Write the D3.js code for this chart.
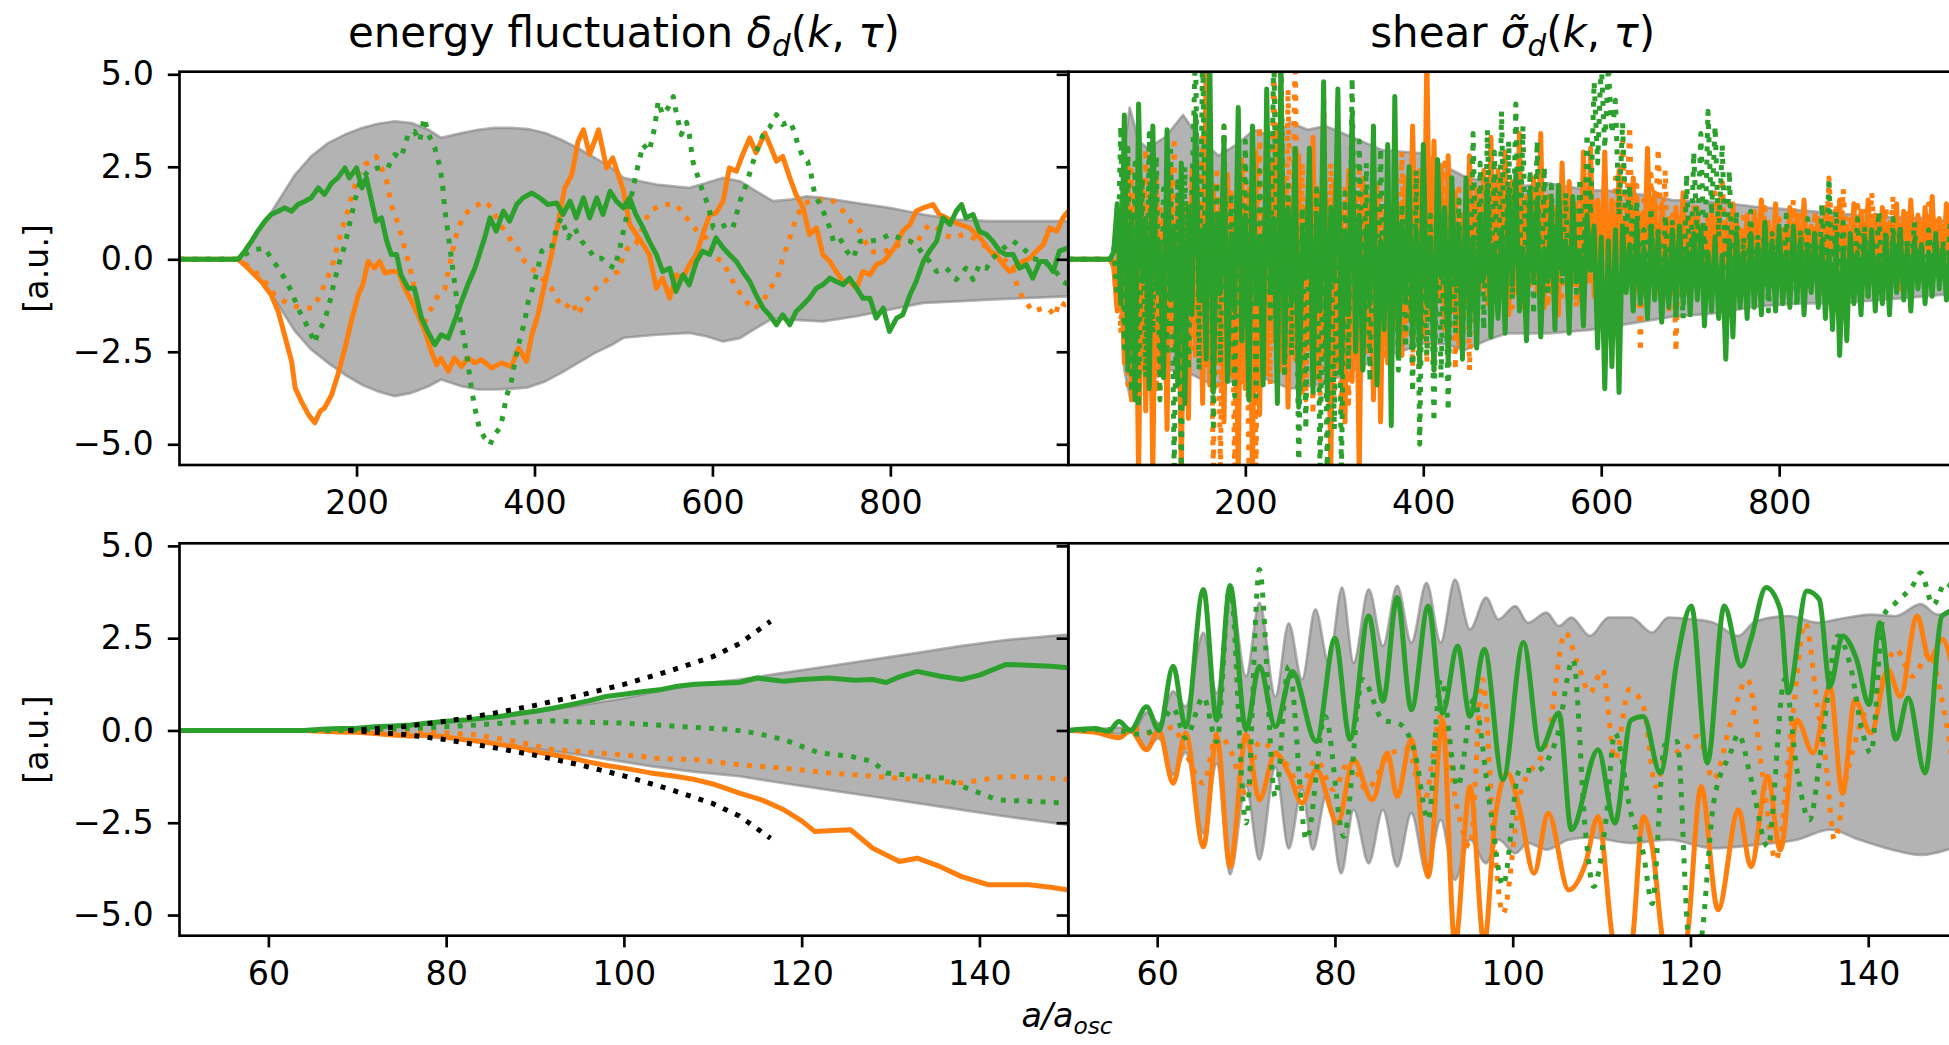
<!DOCTYPE html>
<meta charset="utf-8">
<style>
body { margin: 0; background: #fff; }
svg { display: block; font-family: "DejaVu Sans", sans-serif; background: #fff; }
.axis text { font-size: 33.3px; fill: #000; font-family: "DejaVu Sans", sans-serif; }
.axis line { stroke: #000; stroke-width: 2.67px; }
.axis path { display: none; }
.spine { fill: none; stroke: #000; stroke-width: 2.67px; }
.band { fill: #808080; fill-opacity: 0.6; stroke: #808080; stroke-opacity: 0.6; stroke-width: 2.7px; stroke-linejoin: round; }
.line { fill: none; stroke-width: 5px; stroke-linejoin: round; }
.dotted { stroke-dasharray: 5 8.25; stroke-linecap: butt; }
.lbl { font-size: 33.3px; }
</style>
<body>
<script src="https://d3js.org/d3.v7.min.js"></script>
<script>

var ORANGE = "#ff7f0e", GREEN = "#2ca02c";

// ---------- top left: energy fluctuation, a in [1, 1000] ----------
var tlBandUp = [[1,0],[60,0],[67,0.02],[80,0.4],[93,0.85],[112,1.57],[131,2.29],[149,2.78],[168,3.14],[187,3.37],[206,3.55],[224,3.66],[243,3.73],[262,3.68],[281,3.5],[295,3.28],[318,3.41],[337,3.5],[355,3.55],[374,3.55],[393,3.52],[412,3.41],[430,3.23],[449,3.0],[468,2.74],[487,2.47],[500,2.2],[537,2.02],[574,1.93],[593,2.06],[612,2.2],[631,2.11],[649,1.84],[668,1.57],[687,1.61],[706,1.7],[724,1.66],[762,1.52],[799,1.39],[837,1.21],[874,1.07],[912,1.03],[949,1.03],[1000,1.03]];
var tlBandLo = [[1,0],[60,0],[67,-0.02],[80,-0.25],[93,-0.6],[112,-1.23],[131,-1.95],[149,-2.44],[168,-2.8],[187,-3.12],[206,-3.39],[224,-3.57],[243,-3.7],[262,-3.61],[281,-3.43],[295,-3.25],[318,-3.43],[337,-3.52],[355,-3.52],[374,-3.5],[393,-3.46],[412,-3.3],[430,-3.07],[449,-2.8],[468,-2.53],[487,-2.31],[500,-2.12],[537,-2.04],[574,-1.99],[593,-2.08],[612,-2.22],[631,-2.13],[649,-1.86],[668,-1.59],[687,-1.63],[724,-1.68],[762,-1.54],[799,-1.36],[837,-1.18],[874,-1.14],[912,-1.09],[949,-1.05],[1000,-1.0]];
var tlOrangeSolid = [[1,0],[67,0],[74,-0.15],[93,-0.6],[104,-0.96],[112,-1.41],[119,-2.04],[127,-2.76],[131,-3.48],[138,-3.84],[146,-4.2],[153,-4.42],[159,-4.11],[164,-4.02],[172,-3.66],[179,-3.12],[187,-2.4],[194,-1.68],[202,-0.96],[207,-0.69],[213,-0.06],[220,-0.24],[226,-0.06],[232,-0.37],[239,-0.33],[247,-0.33],[254,-0.78],[262,-1.14],[269,-1.5],[277,-1.95],[284,-2.49],[290,-2.85],[295,-2.67],[303,-3.03],[310,-2.67],[318,-2.9],[325,-2.67],[333,-2.8],[340,-2.71],[352,-2.94],[363,-2.8],[374,-2.9],[382,-2.4],[391,-2.76],[397,-2.04],[404,-1.5],[412,-0.6],[419,0.12],[427,1.03],[434,1.93],[442,2.29],[449,3.19],[455,3.5],[462,2.83],[472,3.5],[481,2.47],[488,2.74],[500,1.85],[507,0.94],[522,0.4],[529,0.13],[537,-0.78],[544,-0.51],[552,-1.05],[559,-0.42],[567,-0.51],[574,-0.15],[582,0.13],[589,0.67],[597,1.21],[604,1.25],[612,1.57],[619,2.47],[627,2.38],[634,2.83],[642,3.28],[649,2.88],[659,3.41],[666,3.01],[672,2.65],[679,2.78],[687,2.2],[694,1.75],[702,1.39],[709,0.67],[717,0.85],[724,0.13],[732,-0.06],[739,-0.33],[747,-0.6],[754,-0.6],[762,-0.78],[769,-0.33],[777,-0.42],[784,-0.15],[792,-0.06],[799,0.13],[807,0.4],[814,0.76],[822,0.94],[829,1.3],[837,1.39],[848,1.48],[855,1.21],[863,1.12],[870,1.03],[878,0.94],[889,0.85],[897,0.67],[904,0.49],[912,0.22],[919,0.13],[927,-0.15],[934,-0.33],[942,-0.15],[949,-0.06],[957,0.03],[964,0.22],[972,0.4],[979,0.85],[987,0.76],[994,1.12],[1000,1.3]];
var tlOrangeDot = [[1,0],[67,0],[82,-0.24],[97,-0.6],[108,-0.96],[119,-1.14],[131,-1.27],[142,-1.32],[151,-1.32],[157,-1.05],[164,-0.69],[172,-0.24],[177,0.21],[183,0.76],[189,1.21],[194,1.66],[202,2.29],[209,2.56],[217,2.65],[222,2.78],[228,2.47],[234,2.11],[239,1.48],[247,0.94],[254,0.31],[262,-0.42],[269,-1.32],[277,-1.68],[284,-1.32],[292,-0.96],[299,-0.82],[307,0.12],[314,0.85],[322,1.21],[329,1.39],[337,1.48],[344,1.57],[352,1.39],[359,1.03],[367,0.76],[374,0.49],[382,0.26],[389,-0.06],[397,-0.24],[404,-0.42],[412,-0.6],[419,-0.78],[427,-1.14],[434,-1.32],[442,-1.14],[449,-1.5],[457,-1.14],[464,-0.96],[472,-0.69],[479,-0.6],[487,-0.42],[494,-0.33],[500,0.1],[507,0.4],[514,0.42],[529,1.3],[544,1.48],[559,1.48],[574,1.03],[586,0.67],[593,0.58],[604,0.03],[612,-0.06],[619,-0.42],[627,-0.78],[638,-1.14],[646,-1.36],[657,-1.14],[664,-0.78],[672,-0.6],[679,0.03],[687,0.58],[694,1.12],[702,1.48],[709,1.57],[724,1.61],[736,1.57],[747,1.3],[758,0.94],[766,0.76],[777,0.22],[788,0.17],[799,0.26],[810,0.4],[822,0.49],[829,0.4],[837,0.76],[844,0.94],[852,0.85],[859,0.67],[870,0.58],[882,0.67],[893,0.58],[904,0.4],[915,0.13],[927,0.03],[938,-0.24],[943,-0.78],[949,-1.05],[960,-1.41],[972,-1.32],[979,-1.36],[985,-1.54],[990,-1.14],[996,-1.23],[1000,-1.2]];
var tlGreenSolid = [[1,0],[67,0],[74,0.21],[82,0.49],[89,0.76],[97,1.03],[104,1.21],[112,1.3],[119,1.39],[127,1.3],[134,1.48],[142,1.57],[149,1.66],[157,1.93],[164,1.75],[172,2.06],[179,2.2],[187,2.47],[192,2.2],[200,2.47],[206,1.93],[211,2.2],[217,1.57],[222,1.03],[228,1.12],[234,0.49],[239,0.13],[245,0.13],[250,-0.42],[258,-0.78],[265,-0.78],[273,-1.59],[280,-1.95],[288,-2.31],[295,-2.04],[303,-2.13],[310,-1.68],[318,-1.14],[325,-0.69],[333,-0.24],[338,0.13],[344,0.58],[350,1.12],[357,0.76],[365,1.3],[372,1.03],[380,1.48],[387,1.66],[397,1.79],[406,1.66],[415,1.48],[425,1.52],[432,1.21],[440,1.57],[447,1.12],[455,1.66],[462,1.12],[470,1.66],[477,1.21],[485,1.84],[492,1.57],[500,1.39],[507,1.66],[514,1.21],[522,0.85],[529,0.49],[537,0.13],[544,-0.33],[552,-0.24],[559,-0.87],[567,-0.42],[574,-0.69],[582,-0.06],[589,0.22],[597,0.13],[604,0.58],[612,0.31],[619,0.13],[627,-0.06],[634,-0.33],[642,-0.6],[649,-0.96],[657,-1.32],[664,-1.5],[672,-1.77],[679,-1.5],[687,-1.77],[694,-1.41],[702,-1.23],[709,-1.05],[717,-0.78],[724,-0.69],[732,-0.51],[739,-0.6],[747,-0.69],[754,-0.51],[762,-0.78],[769,-1.05],[777,-1.05],[784,-1.59],[792,-1.32],[799,-1.95],[807,-1.59],[814,-1.5],[822,-0.96],[829,-0.6],[837,-0.06],[844,0.22],[852,0.49],[859,1.12],[867,0.94],[874,1.3],[880,1.48],[885,1.12],[893,1.21],[900,0.76],[908,0.67],[915,0.49],[923,0.22],[930,0.13],[938,0.13],[945,-0.24],[953,-0.15],[960,-0.51],[968,-0.06],[975,-0.06],[983,-0.33],[990,0.22],[1000,0.31]];
var tlGreenDot = [[1,0],[67,0],[74,0.12],[85,0.26],[97,0.3],[104,0.03],[112,-0.24],[119,-0.51],[127,-0.87],[134,-1.32],[142,-1.68],[149,-2.04],[153,-2.26],[157,-1.95],[164,-1.68],[170,-1.14],[175,-0.6],[181,-0.06],[187,0.4],[192,0.94],[198,1.57],[204,2.11],[213,2.38],[224,2.47],[235,2.47],[243,2.83],[250,2.74],[258,3.37],[265,3.46],[271,3.19],[276,3.82],[281,3.37],[288,3.01],[294,2.47],[297,1.93],[299,1.39],[303,0.67],[307,-0.06],[310,-0.6],[314,-1.32],[320,-2.04],[325,-2.76],[329,-3.48],[333,-4.02],[338,-4.56],[344,-4.83],[350,-5.01],[355,-4.74],[361,-4.56],[365,-4.2],[368,-3.75],[374,-3.3],[378,-2.76],[383,-2.22],[389,-1.68],[393,-1.14],[398,-0.78],[404,-0.24],[408,0.22],[413,0.3],[419,0.3],[425,0.85],[430,1.12],[438,0.58],[445,0.85],[453,0.49],[460,0.3],[468,0.03],[475,0.03],[483,-0.15],[490,-0.24],[496,0.3],[502,1.0],[508,1.6],[514,2.29],[522,3.1],[529,2.92],[535,3.55],[539,4.27],[544,3.91],[550,4.09],[556,4.4],[559,4.0],[565,3.37],[571,3.7],[574,3.37],[578,2.65],[584,2.2],[589,1.84],[595,1.48],[601,0.85],[608,0.85],[616,0.94],[623,0.85],[631,1.57],[638,2.02],[646,2.65],[651,3.01],[657,3.37],[664,3.55],[672,3.91],[679,3.64],[687,3.73],[692,3.46],[696,3.1],[702,2.74],[707,2.65],[711,2.29],[715,1.75],[721,1.48],[726,1.21],[732,0.85],[736,0.49],[743,0.58],[751,0.22],[758,0.03],[766,0.49],[777,0.49],[788,0.53],[799,0.67],[810,0.58],[822,0.49],[829,0.4],[837,0.13],[844,-0.06],[852,-0.33],[863,-0.24],[874,-0.55],[885,-0.24],[893,-0.55],[900,-0.15],[908,-0.24],[915,0.03],[927,0.3],[938,0.49],[949,0.3],[960,0.03],[972,-0.06],[983,-0.24],[994,-0.6],[1000,-0.69]];

// ---------- top right: shear, a in [1, 1000] ----------
var trBandUp = [[1,0],[50,0],[58,0.6],[64,3.0],[70,4.1],[80,3.2],[90,3.0],[110,3.3],[130,3.9],[150,3.2],[170,2.8],[190,3.1],[210,3.5],[230,3.3],[250,3.7],[270,3.5],[290,3.6],[310,3.4],[330,3.2],[354,2.95],[380,2.9],[401,2.86],[425,2.5],[447,2.23],[470,2.1],[494,1.96],[520,2.0],[541,2.05],[565,1.95],[587,1.87],[610,1.85],[634,1.78],[660,1.7],[680,1.6],[727,1.55],[773,1.42],[820,1.33],[866,1.24],[913,1.15],[959,1.12],[1000,1.0]];
var trBandLo = [[1,0],[50,0],[58,-0.6],[64,-3.0],[70,-3.7],[80,-3.0],[100,-3.0],[130,-3.0],[160,-3.35],[190,-3.3],[220,-3.2],[250,-3.5],[280,-3.4],[308,-3.17],[330,-2.9],[354,-2.63],[380,-2.45],[401,-2.27],[425,-2.3],[447,-2.45],[470,-2.2],[494,-2.0],[541,-2.0],[587,-1.91],[634,-1.73],[680,-1.55],[727,-1.46],[773,-1.28],[820,-1.19],[866,-1.19],[913,-1.1],[959,-1.01],[1000,-0.92]];
// sampled every 4 units from a = 48, 20 values (80 units) per row
var trStart = 48, trStep = 4;
var trGreenSolid = [
  0, 0.2, 1.5, -1.2, 3.9, -3.0, 1.2, -3.8, 4.2, -0.6, 1.1, -3.5, 3.6, -0.8, 0.4, -3.2, 3.5, -1.1, 0.9, -3.4,
  2.6, -3.9, 1.4, -1.5, 3.9, -1.1, 0.8, -2.7, 5.5, -3.6, 1.2, -0.9, 3.3, -3.3, 0.7, -1.4, 4.1, -2.2, 1.2, -3.8,
  3.6, -1.2, 0.6, -3.4, 4.6, -0.8, 1.1, -3.9, 5.3, -2.8, 1.4, -1.2, 2.9, -4.0, 0.7, -0.5, 3.0, -3.6, 1.2, -1.4,
  4.8, -3.8, 1.3, -0.6, 4.6, -3.1, 0.7, -1.5, 3.9, -2.4, 1.2, -3.0, 0.8, -1.2, 3.6, -3.4, 0.5, -1.9, 3.1, -4.5,
  4.4, -2.6, 1.0, -1.1, 2.5, -2.4, 0.8, -2.9, 3.1, -1.2, 0.6, -3.0, 2.7, -0.5, 1.4, -2.8, 2.2, -0.7, 0.9, -2.6,
  2.2, -1.9, 0.6, -2.4, 1.2, -0.5, 2.0, -2.1, 0.4, -1.6, 0.8, -2.0, 1.9, -0.7, 2.3, -1.4, 0.3, -2.2, 1.8, -0.5,
  1.6, -2.1, 0.3, -0.6, 1.5, -1.9, 2.0, -0.4, 0.5, -2.0, 1.7, -0.6, 0.2, -1.8, 1.2, -0.3, 0.9, -2.4, 0.6, -3.5,
  0.5, -2.9, 0.8, -3.6, 0.9, -0.9, 0.4, -1.4, 1.0, -1.2, 0.3, -1.6, 0.9, -1.1, 0.6, -1.7, 0.2, -1.3, 0.8, -1.5,
  0.9, -1.2, 0.3, -1.5, 0.7, -1.1, 0.8, -1.8, 0.2, -1.4, 0.6, -1.6, 0.1, -2.7, 0.5, -2.1, 0.7, -1.3, 0.2, -1.6,
  0.7, -1.3, 0.4, -1.5, 1.0, -1.0, 0.5, -1.4, 0.8, -1.2, 0.2, -1.3, 0.9, -1.1, 0.5, -1.5, 0.4, -0.9, 0.7, -1.3,
  0.5, -1.6, 0.2, -1.9, 0.6, -2.6, 0.3, -2.2, 0.7, -1.2, 0.2, -1.5, 0.6, -1.0, 0.8, -1.4, 0.1, -1.2, 0.6, -1.5,
  0.6, -0.9, 0.8, -1.1, 0.3, -1.4, 0.5, -0.8, 0.4, -1.2, 0.2, -1.0, 0.6, -0.7, 0.3, -1.1, 0.2, -0.6, 0.5, -0.3];
var trOrangeSolid = [
  0, -0.2, -1.4, 1.0, -2.8, 2.6, -3.8, 1.8, -5.8, 2.0, -4.1, 1.4, -5.8, 2.2, -3.0, 1.2, -4.6, 2.5, -2.4, 1.6,
  -5.8, 1.5, -4.3, 2.4, -2.6, 1.3, -3.9, 5.8, -3.4, 2.0, -2.8, 1.6, -4.4, 2.3, -3.1, 1.1, -5.8, 2.7, -3.5, 1.9,
  -5.8, 2.9, -4.2, 1.2, -3.1, 2.7, -2.2, 3.6, -3.0, 2.1, -4.0, 1.6, -2.7, 2.8, -3.6, 1.4, -2.4, 3.3, -3.2, 1.8,
  -2.6, 1.6, -5.8, 2.1, -2.9, 1.3, -4.4, 2.4, -3.3, 1.7, -5.8, 2.2, -2.5, 1.5, -3.8, 2.0, -4.4, 1.2, -2.8, 0.9,
  -1.8, 1.5, -2.6, 2.2, -1.6, 3.6, -1.2, 2.4, -2.1, 5.5, -1.6, 3.2, -1.0, 2.5, -1.9, 2.8, -1.4, 1.8, -2.3, 1.2,
  -0.8, 2.8, -1.4, 1.9, -0.8, 2.4, -1.2, 3.3, -0.6, 2.4, -1.0, 2.9, -1.5, 2.1, -0.9, 3.4, -1.3, 1.7, -0.7, 2.2,
  -0.9, 3.4, -1.3, 1.7, -0.9, 1.4, -1.5, 2.6, -0.4, 2.1, -0.6, 1.5, -1.1, 2.9, -0.6, 3.0, -1.0, 1.6, -0.5, 2.9,
  -1.0, 1.6, -0.7, 2.4, -0.5, 1.0, -0.3, 2.2, -0.8, 1.2, -0.6, 3.0, -0.2, 1.8, -0.9, 1.5, -0.4, 1.1, -0.8, 1.4,
  -0.2, 1.8, -0.9, 1.1, -0.4, 1.4, -0.5, 0.9, -0.8, 1.3, 0.1, 1.6, -0.6, 1.0, -0.3, 1.5, -0.7, 0.8, -0.2, 1.2,
  -0.4, 1.3, 0.1, 1.6, -0.6, 1.0, -0.3, 1.5, -0.7, 0.8, -0.2, 1.4, -0.5, 1.2, -0.1, 1.6, -0.6, 0.9, -0.3, 1.1,
  -0.9, 1.4, -0.4, 1.1, -0.1, 1.6, -0.6, 0.9, -0.3, 1.5, -0.8, 1.3, -0.2, 1.6, -0.5, 1.2, -0.3, 1.4, 0.2, 1.0,
  -0.5, 1.5, -0.8, 1.3, -0.2, 1.6, -0.5, 1.2, -0.3, 1.4, 0.0, 1.7, -0.4, 1.1, -0.2, 1.5, -0.6, 1.2, 0.0, 0.8];
var trGreenDot = [
  0, 0.3, -1.0, 3.6, -2.4, 3.0, -3.6, 2.6, -4.0, 2.2, -3.2, 3.4, -2.0, 2.8, -3.8, 1.9, -2.6, 3.1, -5.8, 2.2,
  -5.8, 2.5, -3.0, 1.8, 5.8, -3.0, 5.8, -2.2, 3.0, -4.5, 2.1, -2.8, 3.6, -2.4, 1.8, -3.7, 2.4, -2.2, 3.2, -3.0,
  1.8, -3.7, 2.4, -2.2, 3.5, -1.6, 5.8, -2.0, 5.8, -3.2, 2.0, -2.6, 3.1, -5.8, 1.4, -4.6, 2.3, -3.3, 1.9, -5.8,
  2.0, -5.8, 1.4, -4.6, 2.3, -5.8, 1.8, -3.0, 4.9, -2.5, 3.2, -1.8, 2.6, -3.3, 1.6, -2.4, 3.0, -1.6, 2.2, -3.1,
  2.0, -3.0, 1.5, -2.4, 1.1, -3.6, 2.4, -5.0, 2.0, -2.6, 1.2, -4.4, 1.8, -3.2, 1.3, -4.1, 2.2, -2.0, 1.6, -2.7,
  1.6, -2.2, 3.4, -1.3, 2.6, -1.9, 3.5, -0.8, 2.9, -1.4, 4.0, -1.6, 3.2, -1.1, 4.2, -0.6, 3.6, -1.2, 2.4, -1.5,
  3.2, -1.8, 2.5, -1.0, 2.0, -1.4, 1.1, -0.6, 1.8, -1.2, 1.4, -0.9, 2.2, -0.6, 3.4, 1.2, 4.8, 2.6, 5.4, 3.0,
  5.2, 3.4, 4.3, 1.2, 3.7, 0.6, 2.0, -0.4, 1.6, -1.2, 0.8, -0.6, 1.4, -1.0, 0.9, -1.6, 1.2, -0.8, 1.0, -1.6,
  1.0, -1.6, 2.3, -0.8, 2.9, 0.4, 3.4, -0.2, 4.0, 1.2, 3.6, 0.6, 3.1, -0.4, 2.4, -0.9, 1.3, -1.2, 0.6, -0.7,
  1.3, -1.2, 0.6, -0.7, 1.0, -1.4, 0.7, -0.3, 0.9, -1.1, 1.2, -0.8, 0.5, -1.3, 0.8, -0.6, 1.1, -0.9, 0.7, -1.1,
  1.5, -0.5, 2.2, -0.9, 1.3, -0.6, 1.0, -1.2, 0.5, -0.8, 1.1, -0.4, 0.9, -1.0, 0.6, -0.5, 1.3, -0.7, 0.8, -1.1,
  1.1, -0.4, 0.9, -1.0, 0.6, -0.5, 1.0, -0.7, 0.4, -0.9, 0.8, -0.3, 0.7, -0.8, 0.5, -0.6, 0.9, -0.4, 0.6, -0.2];
var trOrangeDot = [
  0, -0.2, 0.9, -2.0, 1.8, -3.4, 2.4, -3.0, 1.6, -2.6, 3.0, -2.0, 2.2, -3.6, 1.5, -2.4, 2.7, -1.8, 3.3, -3.0,
  2.2, -3.6, 1.5, -2.4, 2.7, -1.8, 3.3, -3.0, 2.0, -5.8, 2.5, -5.8, 3.6, -2.7, 1.8, -5.8, 2.1, -3.4, 2.6, -5.8,
  2.5, -5.8, 3.6, -2.7, 1.8, -3.4, 5.8, -1.6, 5.8, -2.4, 4.6, -2.0, 5.8, -3.2, 2.6, -3.8, 1.6, -4.2, 2.0, -3.9,
  4.6, -2.0, 2.6, -3.8, 1.6, -4.2, 2.0, -3.9, 1.4, -2.6, 2.4, -3.1, 1.9, -2.2, 2.8, -1.5, 1.7, -2.6, 2.2, -1.9,
  2.4, -1.2, 2.9, -2.2, 1.8, -2.9, 1.2, -1.9, 2.1, -2.8, 0.9, -3.0, 1.5, -1.1, 2.6, -2.4, 1.3, -3.0, 1.9, -1.5,
  0.9, -3.0, 1.5, -1.1, 0.7, -0.9, 1.6, -1.5, 1.0, -0.4, 2.3, -0.8, 1.4, -1.3, 0.6, -0.2, 1.2, -1.0, 0.5, -0.6,
  2.3, -0.8, 1.4, -1.3, 0.6, -0.2, 1.2, -1.0, 0.5, -0.6, 1.1, -1.3, 1.8, -0.4, 0.9, -0.7, 1.5, -1.1, 0.8, -0.5,
  1.1, -1.3, 2.2, 0.2, 3.2, 0.8, 3.6, -0.5, 2.0, -2.5, 1.6, -0.9, 2.3, 0.4, 3.0, 0.6, 2.4, -1.4, 1.2, -2.5,
  1.2, -1.0, 0.6, 0.2, 1.4, -0.3, 0.9, 0.1, 1.2, -0.6, 1.8, 0.3, 2.2, -0.2, 1.5, 0.4, 1.0, -0.4, 1.3, -0.1,
  0.8, -0.2, 1.0, 0.0, 1.4, -0.5, 0.6, 0.2, 1.1, -0.4, 0.9, 0.1, 1.6, -0.2, 1.2, 0.3, 0.8, -0.3, 1.3, 0.0,
  0.7, -0.1, 2.2, 0.3, 1.5, -0.3, 1.9, 0.2, 1.2, -0.4, 1.6, 0.1, 1.3, -0.2, 1.8, 0.4, 1.0, -0.1, 1.4, 0.2,
  1.7, 0.1, 1.0, -0.2, 1.3, 0.4, 0.8, -0.1, 1.1, 0.3, 1.5, 0.0, 1.2, -0.3, 0.9, 0.2, 1.4, 0.1, 1.0, 0.3];

// ---------- bottom left: energy fluctuation zoom, a in [50, 150] ----------
var blBandUp = [[50,0],[64,0],[68,0.03],[72,0.08],[76,0.14],[80,0.22],[85,0.35],[90,0.5],[95,0.68],[100,0.87],[103,1.02],[108,1.25],[113,1.38],[118,1.56],[123,1.74],[128,1.92],[133,2.1],[138,2.29],[143,2.45],[150,2.6]];
var blBandLo = [[50,0],[64,0],[68,-0.03],[72,-0.08],[76,-0.14],[80,-0.22],[85,-0.35],[90,-0.5],[95,-0.66],[100,-0.85],[103,-0.97],[108,-1.12],[113,-1.24],[118,-1.43],[123,-1.61],[128,-1.79],[133,-1.97],[138,-2.15],[143,-2.33],[150,-2.56]];
var blOrangeSolid = [[50,0],[64,0],[66,-0.02],[68,-0.04],[70,-0.05],[72,-0.08],[74,-0.12],[76,-0.15],[78,-0.12],[80,-0.18],[82,-0.25],[84,-0.3],[86,-0.38],[88,-0.45],[90,-0.58],[92,-0.66],[94,-0.74],[96,-0.85],[98,-0.95],[100,-1.02],[103,-1.15],[106,-1.25],[108,-1.33],[110,-1.45],[113,-1.7],[115.5,-1.88],[118,-2.15],[120,-2.45],[121.5,-2.74],[123,-2.72],[125.5,-2.69],[128,-3.19],[131,-3.55],[133,-3.46],[135.6,-3.69],[138,-3.96],[141,-4.18],[145.6,-4.18],[148,-4.25],[150,-4.32]];
var blOrangeDot = [[50,0],[70,0],[75,-0.03],[80,-0.07],[83,-0.11],[88,-0.3],[92,-0.52],[97,-0.61],[102,-0.7],[103,-0.75],[108,-0.79],[113,-0.93],[118,-1.02],[123,-1.15],[128,-1.24],[133,-1.33],[138,-1.42],[143,-1.24],[147,-1.28],[150,-1.33]];
var blGreenSolid = [[50,0],[64,0],[66,0.03],[68,0.05],[70,0.06],[72,0.1],[74,0.12],[76,0.15],[78,0.2],[80,0.25],[82,0.28],[84,0.33],[86,0.38],[88,0.45],[90,0.52],[92,0.6],[94,0.7],[96,0.8],[98,0.92],[100,0.98],[102,1.05],[104,1.1],[106,1.2],[108,1.25],[110,1.27],[113,1.3],[115,1.42],[118,1.33],[120,1.38],[123,1.42],[126,1.36],[128,1.38],[129.5,1.3],[131,1.45],[133,1.6],[135.6,1.47],[138,1.38],[140,1.5],[143,1.79],[146,1.76],[148,1.74],[150,1.7]];
var blGreenDot = [[50,0],[68,0],[72,0.03],[76,0.06],[80,0.1],[84,0.16],[88,0.22],[92,0.26],[96,0.22],[100,0.2],[103,0.16],[108,0.08],[112,0.03],[115,-0.08],[118,-0.25],[122,-0.61],[125.5,-0.7],[128,-0.84],[129.5,-1.15],[133,-1.24],[136,-1.29],[138,-1.51],[142,-1.88],[145.6,-1.92],[150,-1.97]];
var blGuideUp = [[69,0],[75,0.1],[80,0.25],[85,0.45],[90,0.68],[95,0.95],[100,1.25],[105,1.6],[110,2.0],[113,2.35],[116.5,2.96]];
var blGuideLo = [[69,0],[75,-0.1],[80,-0.25],[85,-0.45],[90,-0.67],[95,-0.93],[100,-1.23],[105,-1.58],[110,-1.98],[113,-2.32],[116.5,-2.92]];

// ---------- bottom right: shear zoom, a in [50, 150] ----------
var brBandUp = [[50,0],[53,0.02],[55.7,0.08],[57.5,0.05],[58.8,0.49],[60.2,0.2],[61.8,1.06],[63.2,0.65],[65.2,2.65],[66.7,1.02],[68.2,3.82],[70,1.47],[71.5,3.46],[73.3,0.92],[74.8,2.9],[76.3,1.38],[77.8,3.28],[79.3,1.83],[80.8,3.87],[82.1,1.83],[83.8,3.82],[85.4,2.29],[87,3.92],[88.6,2.38],[90.3,4.0],[91.9,2.38],[93.5,4.09],[95.2,2.74],[97,3.6],[98.4,3.01],[100.3,3.37],[101.7,2.92],[103.8,3.19],[105.2,2.83],[106.6,3.06],[108.7,2.56],[110.8,3.06],[113.3,3.06],[115.7,2.65],[117.5,3.06],[120.3,3.01],[122.6,2.92],[125.4,2.56],[127.3,2.96],[131,3.1],[134.3,2.92],[136.6,3.01],[140.3,3.14],[143.1,3.1],[145.9,3.42],[147.8,3.14],[150,3.2]];
var brBandLo = [[50,0],[53,-0.02],[55.7,-0.1],[57.5,-0.05],[58.8,-0.5],[60.2,-0.2],[61.8,-1.2],[63.2,-0.6],[65.2,-2.8],[66.7,-0.9],[68.2,-3.9],[70,-1.5],[71.5,-3.5],[73.3,-1.0],[74.8,-3.2],[76.3,-1.6],[77.5,-3.23],[79.1,-1.7],[80.7,-3.87],[82.1,-2.15],[83.8,-3.6],[85.4,-2.15],[87,-3.69],[88.6,-2.24],[90.3,-3.87],[91.9,-2.42],[93.5,-4.05],[95.2,-2.96],[97,-3.6],[98.4,-2.96],[100.3,-3.33],[101.7,-3.05],[103.8,-3.23],[106.3,-2.96],[108.7,-2.9],[113.3,-3.05],[117.5,-2.96],[122.6,-3.19],[127.3,-3.1],[132,-2.96],[135.7,-2.69],[139,-2.96],[142.7,-3.23],[145.9,-3.37],[150,-3.14]];
var brOrangeSolid = [[50,0],[53,-0.05],[55.7,-0.2],[57,0],[58.8,-0.52],[60.2,0],[61.8,-1.43],[63.2,-0.07],[65.2,-3.15],[66.7,-0.16],[68.2,-3.69],[70,-0.1],[71.5,-1.88],[73.3,-0.61],[74.8,-1.15],[76.3,-1.97],[77.9,-1.06],[80.3,-2.51],[82.1,-0.79],[84.2,-1.88],[85.9,-0.61],[87,-1.79],[88.6,-0.24],[90.5,-3.96],[92.1,0.28],[93.5,-5.8],[95.2,-1.52],[96.8,-5.8],[98,-2.42],[99.4,-1.15],[100.8,-2.15],[102.4,-3.87],[104,-2.24],[106.3,-4.32],[108.2,-3.6],[109.6,-2.33],[111.5,-5.8],[113.3,-5.8],[114.7,-2.33],[115.7,-3.15],[117.1,-5.8],[119.4,-5.8],[121.2,-1.52],[123.1,-4.86],[125.4,-2.15],[126.8,-3.69],[128.7,-1.24],[130.1,-3.24],[132,0.28],[133.8,-0.61],[135.7,1.2],[137.1,-1.7],[138.5,0.83],[140.3,-0.07],[142.2,1.65],[143.6,0.92],[145.5,3.1],[146.9,1.92],[148.3,2.47],[150,1.1]];
var brOrangeDot = [[50,0],[55,-0.02],[58,0.05],[60.2,-0.2],[61.8,0.1],[63.2,-0.6],[65.2,-1.43],[66.7,-0.1],[68.2,-0.5],[70,-1.7],[71.5,-0.3],[73.3,-0.6],[74.8,-1.0],[76.1,-1.52],[77.9,-0.79],[79.8,-1.6],[81.7,-0.79],[83.5,-1.6],[86.3,-0.61],[88.2,-0.52],[90,-1.97],[91.9,0.38],[93.8,-2.15],[95.2,-3.15],[96.6,1.38],[98,-3.33],[98.9,-4.96],[100.8,-1.8],[104,-0.16],[105.9,2.65],[107.3,1.83],[108.7,1.02],[110.1,1.65],[111.5,-0.79],[113.1,1.11],[114.7,0.65],[116.1,-1.52],[117.5,-0.43],[118.9,-0.61],[120.8,-0.16],[122.6,-1.33],[124.5,0.19],[126.4,1.38],[128.2,-1.33],[129.6,-3.51],[131.5,0.38],[132.9,2.92],[134.3,0.65],[135.2,-0.79],[136.2,-2.96],[137.5,-1.33],[139.4,0.38],[141.3,1.2],[143.1,2.2],[145,1.47],[146.9,2.11],[148.3,0.83],[150,-1.7]];
var brGreenSolid = [[50,0],[53,0.05],[54.5,-0.02],[55.7,0.24],[57,0],[58.8,0.64],[60.2,0],[61.8,1.74],[63.2,0.1],[65.2,3.82],[66.7,0.28],[68.2,3.92],[70,0.02],[71.5,1.74],[73.3,0.1],[75.2,1.6],[77.9,-0.3],[80,2.5],[81.7,-0.24],[83.8,3.1],[85.4,0.79],[87,3.6],[88.6,0.56],[90.5,3.37],[92.1,0.47],[93.8,2.29],[95.2,0.38],[96.8,2.2],[98.9,-1.33],[101.2,2.38],[103.1,-0.52],[105.2,0.47],[106.6,-2.69],[109.6,-0.52],[111.5,-2.51],[113.3,0.28],[114.7,0.38],[116.6,-1.15],[118.5,1.92],[120.1,3.37],[121.9,-0.88],[123.8,3.37],[125.7,1.74],[126.8,2.47],[128.5,3.87],[130.1,3.28],[131,1.02],[133.1,3.78],[134.5,3.55],[135.7,1.2],[137.1,2.56],[138.7,1.92],[140.1,0.7],[141.3,2.92],[143.1,-0.24],[144.5,0.88],[146.4,-1.15],[148.3,3.1],[150,3.3]];
var brGreenDot = [[50,0],[55,0.02],[58,-0.1],[60.2,0.1],[61.8,0.6],[63.2,-0.2],[65.2,0.9],[66.7,-0.3],[68.2,3.92],[70,-2.51],[71.5,4.36],[73.3,-1.8],[74.8,1.74],[76.8,-2.96],[78.9,0.38],[81,-2.87],[83.1,1.38],[85.4,0.28],[87.2,0.19],[89,-0.61],[90.5,-2.42],[91.9,1.38],[93.8,-1.52],[95.6,0.83],[97.5,-2.15],[98.9,-4.2],[100.8,-1.06],[102.6,-1.1],[105,-0.16],[106.8,1.92],[108.2,-2.78],[109.1,-4.23],[110.5,-2.42],[111.5,-0.07],[113.3,-2.24],[114.7,-3.33],[115.7,-4.69],[117.1,-0.4],[118.5,-0.3],[119.9,-5.8],[121,-5.8],[122.6,-1.97],[124.5,-0.61],[125.4,-0.1],[126.8,-1.3],[128.7,-3.15],[130.6,1.38],[132,-1.1],[133.4,-2.42],[134.8,-0.3],[136.6,2.56],[138,1.74],[139.4,-0.1],[140.3,-0.61],[141.7,3.1],[143.1,3.46],[145,3.92],[145.9,4.27],[147.3,3.4],[148.7,4.0],[150,3.6]];

var yTicks = [-5, -2.5, 0, 2.5, 5];
var xTicksTop = [200, 400, 600, 800];
var xTicksBottom = [60, 80, 100, 120, 140];

// ---------- layout ----------
var W = 1949, H = 1045;
var colX = [[179.5, 1068.3], [1068.3, 1957.1]];
var rowY = [[71.7, 465], [543.3, 935.7]];
var yDomain = [-5.56, 5.07];

var svg = d3.select("body").append("svg")
    .attr("width", W)
    .attr("height", H);

function toPairs(vals) {
  var pts = [[1, 0]];
  vals.forEach(function(v, i) { pts.push([trStart + i * trStep, v]); });
  return pts;
}

var panels = [
  { id: "tl", col: 0, row: 0, xd: [1, 1000], xt: xTicksTop, up: tlBandUp, lo: tlBandLo, curve: d3.curveLinear,
    lines: [[tlOrangeSolid, ORANGE, false], [tlOrangeDot, ORANGE, true], [tlGreenSolid, GREEN, false], [tlGreenDot, GREEN, true]] },
  { id: "tr", col: 1, row: 0, xd: [1, 1000], xt: xTicksTop, up: trBandUp, lo: trBandLo, curve: d3.curveLinear,
    lines: [[toPairs(trOrangeSolid), ORANGE, false], [toPairs(trOrangeDot), ORANGE, true], [toPairs(trGreenSolid), GREEN, false], [toPairs(trGreenDot), GREEN, true]] },
  { id: "bl", col: 0, row: 1, xd: [50, 150], xt: xTicksBottom, up: blBandUp, lo: blBandLo, curve: d3.curveLinear,
    lines: [[blOrangeSolid, ORANGE, false], [blOrangeDot, ORANGE, true], [blGreenSolid, GREEN, false], [blGreenDot, GREEN, true], [blGuideUp, "#000", true], [blGuideLo, "#000", true]] },
  { id: "br", col: 1, row: 1, xd: [50, 150], xt: xTicksBottom, up: brBandUp, lo: brBandLo, curve: d3.curveMonotoneX,
    lines: [[brOrangeSolid, ORANGE, false], [brOrangeDot, ORANGE, true], [brGreenSolid, GREEN, false], [brGreenDot, GREEN, true]] }
];

var defs = svg.append("defs");
var plotLayer = svg.append("g");
var axisLayer = svg.append("g");

panels.forEach(function(p) {
  var x = d3.scaleLinear().domain(p.xd).range(colX[p.col]);
  var y = d3.scaleLinear().domain(yDomain).range([rowY[p.row][1], rowY[p.row][0]]);
  var x0 = colX[p.col][0], x1 = colX[p.col][1], y0 = rowY[p.row][0], y1 = rowY[p.row][1];

  defs.append("clipPath").attr("id", "clip-" + p.id)
    .append("rect").attr("x", x0).attr("y", y0).attr("width", x1 - x0).attr("height", y1 - y0);

  var g = plotLayer.append("g").attr("clip-path", "url(#clip-" + p.id + ")");

  var line = d3.line()
      .x(function(d) { return x(d[0]); })
      .y(function(d) { return y(d[1]); })
      .curve(p.curve);

  var bandPath = line(p.up) + line(p.lo.slice().reverse()).replace(/^M/, "L") + "Z";
  g.append("path").attr("class", "band").attr("d", bandPath);

  p.lines.forEach(function(s) {
    var lineGen = s[1] === "#000" ? line.curve(d3.curveLinear) : line.curve(p.curve);
    g.append("path")
      .attr("class", "line" + (s[2] ? " dotted" : ""))
      .attr("stroke", s[1])
      .attr("d", lineGen(s[0]));
  });

  // axes
  var yAxis = d3.axisLeft(y).tickValues(yTicks).tickSize(11.7).tickPadding(14)
      .tickFormat(p.col === 0 ? d3.format(".1f") : function() { return ""; });
  axisLayer.append("g").attr("class", "axis")
    .attr("transform", "translate(" + x0 + ",0)")
    .call(yAxis);

  var xAxis = d3.axisBottom(x).tickValues(p.xt).tickSize(11.7).tickPadding(14)
      .tickFormat(d3.format("d"));
  axisLayer.append("g").attr("class", "axis")
    .attr("transform", "translate(0," + y1 + ")")
    .call(xAxis);

  axisLayer.append("rect").attr("class", "spine")
    .attr("x", x0).attr("y", y0).attr("width", x1 - x0).attr("height", y1 - y0);
});

// y labels
[0, 1].forEach(function(r) {
  var cy = (rowY[r][0] + rowY[r][1]) / 2;
  svg.append("text").attr("class", "lbl")
    .attr("transform", "translate(36," + cy + ") rotate(-90)")
    .attr("text-anchor", "middle")
    .attr("dominant-baseline", "central")
    .text("[a.u.]");
});

// titles with math parts
function mathText(x, y, size, parts, sub) {
  var t = svg.append("text").attr("x", x).attr("y", y)
      .attr("text-anchor", "middle").style("font-size", size + "px");
  var shift = 0;
  parts.forEach(function(pt) {
    var s = t.append("tspan").text(pt[0]);
    if (pt[1]) s.style("font-style", "italic");
    var want = pt[2] ? size * sub : 0;
    if (want !== shift) { s.attr("dy", want - shift); shift = want; }
    if (pt[2]) s.style("font-size", (size * 0.7) + "px");
  });
  return t;
}

mathText((colX[0][0] + colX[0][1]) / 2, 47, 42,
  [["energy fluctuation ", false], ["\u03b4", true], ["d", true, true], ["(", false], ["k", true], [", ", false], ["\u03c4", true], [")", false]], 0.22);
mathText((colX[1][0] + colX[1][1]) / 2, 47, 42,
  [["shear ", false], ["\u03c3\u0303", true], ["d", true, true], ["(", false], ["k", true], [", ", false], ["\u03c4", true], [")", false]], 0.22);
mathText(1067, 1027, 33.3,
  [["a/a", true], ["osc", true, true]], 0.2);

</script>
</body>
